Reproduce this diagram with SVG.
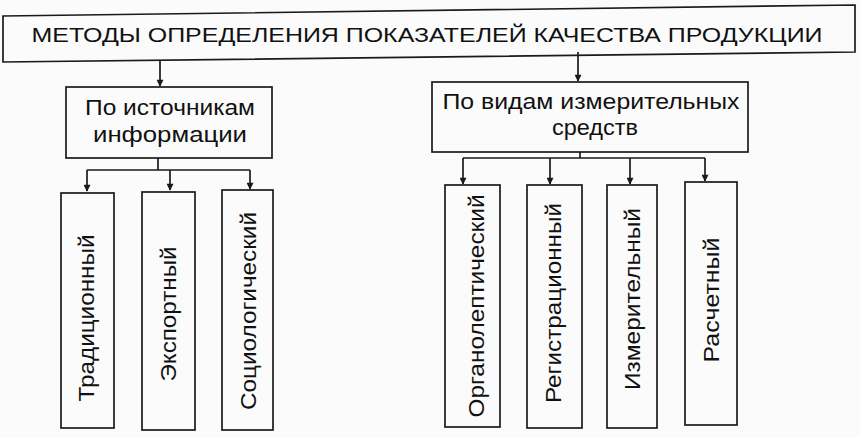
<svg xmlns="http://www.w3.org/2000/svg" width="860" height="438" viewBox="0 0 860 438">
<defs>
<style>
.box{fill:none;stroke:#1a1a1a;stroke-width:1.7}
.ln{fill:none;stroke:#1a1a1a;stroke-width:1.7}
text{font-family:"Liberation Sans",Arial,sans-serif;fill:#111}
.t{font-size:21px}
.s{font-size:22px}
.v{font-size:22px}
</style>
<marker id="ah" viewBox="0 0 10 10" refX="9" refY="5" markerWidth="8" markerHeight="7" markerUnits="userSpaceOnUse" orient="auto">
<path d="M0,0 L10,5 L0,10 z" fill="#1a1a1a"/>
</marker>
</defs>
<rect width="860" height="438" fill="#fbfbfb"/>
<g id="connectors">
<path class="ln" d="M160,60 V86" marker-end="url(#ah)"/>
<path class="ln" d="M578,52 V81" marker-end="url(#ah)"/>
<path class="ln" d="M158,158 V170 M87,170 H250"/>
<path class="ln" d="M87,170 V191" marker-end="url(#ah)"/>
<path class="ln" d="M170,170 V190" marker-end="url(#ah)"/>
<path class="ln" d="M250,170 V189" marker-end="url(#ah)"/>
<path class="ln" d="M580,152 V158 M463,158 H705"/>
<path class="ln" d="M463,158 V184" marker-end="url(#ah)"/>
<path class="ln" d="M550,158 V184" marker-end="url(#ah)"/>
<path class="ln" d="M630,158 V184" marker-end="url(#ah)"/>
<path class="ln" d="M705,158 V181" marker-end="url(#ah)"/>
</g>
<g id="root">
<polygon class="box" points="3,16 855,5 855,52 3,62"/>
<text class="t" x="427" y="42" text-anchor="middle" textLength="791" lengthAdjust="spacingAndGlyphs">МЕТОДЫ ОПРЕДЕЛЕНИЯ ПОКАЗАТЕЛЕЙ КАЧЕСТВА ПРОДУКЦИИ</text>
</g>
<g id="src">
<rect class="box" x="66" y="87" width="206" height="71"/>
<text class="s" x="170" y="115" text-anchor="middle" textLength="170" lengthAdjust="spacingAndGlyphs">По источникам</text>
<text class="s" x="170" y="142" text-anchor="middle" textLength="154" lengthAdjust="spacingAndGlyphs">информации</text>
</g>
<g id="meas">
<rect class="box" x="432" y="82" width="316" height="70"/>
<text class="s" x="591" y="109" text-anchor="middle" textLength="297" lengthAdjust="spacingAndGlyphs">По видам измерительных</text>
<text class="s" x="595" y="135" text-anchor="middle" textLength="86" lengthAdjust="spacingAndGlyphs">средств</text>
</g>
<g id="trad">
<rect class="box" x="61" y="193" width="53" height="235"/>
<text class="v" transform="translate(94,318) rotate(-90)" text-anchor="middle" textLength="167" lengthAdjust="spacingAndGlyphs">Традиционный</text>
</g>
<g id="expert">
<rect class="box" x="142" y="192" width="53" height="238"/>
<text class="v" transform="translate(176,314) rotate(-90)" text-anchor="middle" textLength="135" lengthAdjust="spacingAndGlyphs">Экспортный</text>
</g>
<g id="socio">
<rect class="box" x="222" y="190" width="51" height="240"/>
<text class="v" transform="translate(256,311) rotate(-90)" text-anchor="middle" textLength="198" lengthAdjust="spacingAndGlyphs">Социологический</text>
</g>
<g id="organo">
<rect class="box" x="445" y="185" width="55" height="242"/>
<text class="v" transform="translate(484,306) rotate(-90)" text-anchor="middle" textLength="223" lengthAdjust="spacingAndGlyphs">Органолептический</text>
</g>
<g id="reg">
<rect class="box" x="527" y="185" width="55" height="243"/>
<text class="v" transform="translate(561,303) rotate(-90)" text-anchor="middle" textLength="200" lengthAdjust="spacingAndGlyphs">Регистрационный</text>
</g>
<g id="izm">
<rect class="box" x="607" y="185" width="50" height="243"/>
<text class="v" transform="translate(640,299) rotate(-90)" text-anchor="middle" textLength="182" lengthAdjust="spacingAndGlyphs">Измерительный</text>
</g>
<g id="calc">
<rect class="box" x="685" y="182" width="52" height="243"/>
<text class="v" transform="translate(719,300) rotate(-90)" text-anchor="middle" textLength="125" lengthAdjust="spacingAndGlyphs">Расчетный</text>
</g>
</svg>
